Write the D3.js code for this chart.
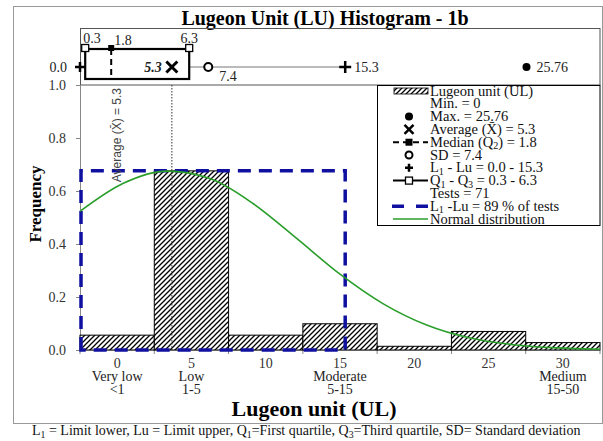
<!DOCTYPE html>
<html><head><meta charset="utf-8">
<script src="https://cdn.jsdelivr.net/npm/d3@7"></script>
<style>body{margin:0;background:#fff}</style>
</head><body>
<svg id="c" width="603" height="441"></svg>
<script>
// ---- data ----
const categories = ["0","5","10","15","20","25","30"];
const frequency = [0.056, 0.676, 0.056, 0.099, 0.014, 0.070, 0.028];
const yTicks = [0, 0.2, 0.4, 0.6, 0.8, 1.0];
const classNames = ["Very low","Low","Moderate","Medium"];
const classRanges = ["<1","1-5","5-15","15-50"];
const classAt = ["0","5","15","30"];
const boxStats = {min:0, q1:0.3, median:1.8, q3:6.3, mean:5.3, sd:7.4, upper:15.3, max:25.76, tests:71};
const limitBox = {low:0, up:15.3, freq:0.676};
const normalX = [0, 2.5, 5, 7.5, 10, 12.5, 15, 17.5, 20, 22.5, 25, 27.5, 30];
const normalY = [0.523, 0.629, 0.675, 0.647, 0.552, 0.421, 0.286, 0.174, 0.094, 0.045, 0.020, 0.008, 0.003];
const legendItems = [
  ["hatch","Lugeon unit (UL)"],
  ["none","Min. = 0"],
  ["dot","Max. = 25.76"],
  ["cross","Average (X\u0304) = 5.3"],
  ["median","Median (Q_2) = 1.8"],
  ["circle","SD = 7.4"],
  ["plus","L_1 - Lu = 0.0 - 15.3"],
  ["q","Q_1 - Q_3 = 0.3 - 6.3"],
  ["none","Tests = 71"],
  ["blue","L_1 -Lu = 89 % of tests"],
  ["green","Normal distribution"]
];
const caption = "L_1 = Limit lower,  Lu = Limit upper, Q_1=First quartile, Q_3=Third quartile, SD= Standard deviation";

// ---- layout ----
const svg = d3.select("#c");
const L = 80, R = 600, T = 85, B = 350, PT = 28.5, yc = 67;
const serif = "'Liberation Serif','Times New Roman',serif";
const sans = "'Liberation Sans',Arial,sans-serif";
const blue = "#1010a0", green = "#2a9e2a";

const xBand = d3.scaleBand().domain(categories).range([L, R]).padding(0);
const xLin = d3.scaleLinear().domain([0, 30]).range([L, R]);
const y = d3.scaleLinear().domain([0, 1]).range([B, T]);

function rich(sel, str, size) {
  const parts = str.split(/(_\d)/);
  let pend = 0;
  parts.forEach(p => {
    if (!p) return;
    if (p[0] === "_") {
      sel.append("tspan").attr("font-size", size * 0.7).attr("dy", size * 0.18).text(p.slice(1));
      pend = -size * 0.18;
    } else {
      const t = sel.append("tspan").text(p);
      if (pend) { t.attr("dy", pend); pend = 0; }
    }
  });
  return sel;
}

const defs = svg.append("defs");
const pat = defs.append("pattern").attr("id", "hatch").attr("patternUnits", "userSpaceOnUse").attr("width", 5).attr("height", 5);
pat.append("rect").attr("width", 5).attr("height", 5).attr("fill", "#fff");
pat.append("path").attr("d", "M-1,1 l2,-2 M0,5 l5,-5 M4,6 l2,-2").attr("stroke", "#000").attr("stroke-width", 1.3);

// outer frame
svg.append("rect").attr("x", 13.5).attr("y", 6.5).attr("width", 589).attr("height", 417)
  .attr("fill", "none").attr("stroke", "#999");

// title
svg.append("text").attr("x", 325).attr("y", 25).attr("text-anchor", "middle")
  .attr("font-family", serif).attr("font-weight", "bold").attr("font-size", 20)
  .text("Lugeon Unit (LU) Histogram - 1b");

// top panel frame
svg.append("rect").attr("x", L + 0.5).attr("y", PT).attr("width", R - L - 0.5).attr("height", T - PT)
  .attr("fill", "none").attr("stroke", "#555").attr("stroke-width", 1);
svg.append("line").attr("x1", L - 4).attr("x2", L).attr("y1", yc).attr("y2", yc).attr("stroke", "#555");
svg.append("text").attr("x", 67).attr("y", yc + 5).attr("text-anchor", "end")
  .attr("font-family", serif).attr("font-size", 14).attr("fill", "#222").text("0.0");

// y axis
const yAxis = svg.append("g").attr("transform", `translate(${L},0)`)
  .call(d3.axisLeft(y).tickValues(yTicks).tickFormat(d3.format(".1f")).tickSize(4).tickPadding(10));
yAxis.select(".domain").attr("stroke", "#888");
yAxis.selectAll(".tick line").attr("stroke", "#888");
yAxis.selectAll("text").attr("font-family", serif).attr("font-size", 14).attr("fill", "#333");

svg.append("text").attr("transform", `translate(41,204) rotate(-90)`).attr("text-anchor", "middle")
  .attr("font-family", serif).attr("font-weight", "bold").attr("font-size", 17).text("Frequency");

// x axis
svg.append("line").attr("x1", L).attr("x2", R).attr("y1", B).attr("y2", B).attr("stroke", "#888");
const edges = categories.map(c => xBand(c)).concat([R]);
svg.selectAll(".xt").data(edges).join("line").attr("x1", d => d).attr("x2", d => d)
  .attr("y1", B).attr("y2", B + 4).attr("stroke", "#888");
svg.selectAll(".xl").data(categories).join("text")
  .attr("x", d => xBand(d) + xBand.bandwidth() / 2).attr("y", 368).attr("text-anchor", "middle")
  .attr("font-family", serif).attr("font-size", 14).attr("fill", "#333").text(d => d);
classAt.forEach((c, i) => {
  const cx = xBand(c) + xBand.bandwidth() / 2;
  svg.append("text").attr("x", cx).attr("y", 381).attr("text-anchor", "middle")
    .attr("font-family", serif).attr("font-size", 14).attr("fill", "#222").text(classNames[i]);
  svg.append("text").attr("x", cx).attr("y", 394).attr("text-anchor", "middle")
    .attr("font-family", serif).attr("font-size", 14).attr("fill", "#222").text(classRanges[i]);
});
svg.append("text").attr("x", 314).attr("y", 416).attr("text-anchor", "middle")
  .attr("font-family", serif).attr("font-weight", "bold").attr("font-size", 22).text("Lugeon unit (UL)");

// bars
svg.selectAll(".bar").data(categories).join("rect")
  .attr("x", d => xBand(d)).attr("width", xBand.bandwidth())
  .attr("y", (d, i) => y(frequency[i])).attr("height", (d, i) => B - y(frequency[i]))
  .attr("fill", "url(#hatch)").attr("stroke", "#000").attr("stroke-width", 1);

// blue limits rectangle
svg.append("path")
  .attr("d", `M${xLin(limitBox.low) + 1},${B} V${y(limitBox.freq)} H${xLin(limitBox.up)} V${B} Z`)
  .attr("fill", "none").attr("stroke", blue).attr("stroke-width", 3.5).attr("stroke-dasharray", "13,8");

// normal distribution
svg.append("path").datum(normalX.map((x, i) => [x, normalY[i]]))
  .attr("d", d3.line().x(d => xLin(d[0])).y(d => y(d[1])).curve(d3.curveMonotoneX))
  .attr("fill", "none").attr("stroke", green).attr("stroke-width", 1.6);

// average dotted line + label
svg.append("line").attr("x1", xLin(boxStats.mean)).attr("x2", xLin(boxStats.mean)).attr("y1", T).attr("y2", B)
  .attr("stroke", "#333").attr("stroke-width", 1).attr("stroke-dasharray", "1.5,1.5");
svg.append("text").attr("transform", `translate(121,${T + 3}) rotate(-90)`).attr("text-anchor", "end")
  .attr("font-family", sans).attr("font-size", 12).attr("fill", "#444").text("Average (X\u0304) = 5.3");

// ---- box plot ----
const bx = xLin;
const boxTop = 49, boxBot = 79;
function drawX(g, cx, cy, r, w) {
  g.append("path").attr("d", `M${cx - r},${cy - r}L${cx + r},${cy + r}M${cx - r},${cy + r}L${cx + r},${cy - r}`)
    .attr("stroke", "#000").attr("stroke-width", w);
}
function drawPlus(g, cx, cy, r, w) {
  g.append("path").attr("d", `M${cx - r},${cy}H${cx + r}M${cx},${cy - r}V${cy + r}`)
    .attr("stroke", "#000").attr("stroke-width", w);
}
svg.append("line").attr("x1", bx(boxStats.q3)).attr("x2", bx(boxStats.upper)).attr("y1", yc).attr("y2", yc)
  .attr("stroke", "#777").attr("stroke-width", 1);
svg.append("line").attr("x1", bx(boxStats.min)).attr("x2", bx(boxStats.q1)).attr("y1", yc).attr("y2", yc)
  .attr("stroke", "#000").attr("stroke-width", 2);
svg.append("rect").attr("x", bx(boxStats.q1)).attr("y", boxTop).attr("width", bx(boxStats.q3) - bx(boxStats.q1))
  .attr("height", boxBot - boxTop).attr("fill", "#fff").attr("stroke", "#000").attr("stroke-width", 2.2);
svg.append("line").attr("x1", bx(boxStats.median)).attr("x2", bx(boxStats.median)).attr("y1", boxTop).attr("y2", boxBot)
  .attr("stroke", "#000").attr("stroke-width", 2).attr("stroke-dasharray", "6,4");
[boxStats.q1, boxStats.q3].forEach(v => {
  svg.append("rect").attr("x", bx(v) - 3.5).attr("y", boxTop - 4.5).attr("width", 7).attr("height", 7)
    .attr("fill", "#fff").attr("stroke", "#000").attr("stroke-width", 1.3);
});
svg.append("rect").attr("x", bx(boxStats.median) - 3).attr("y", boxTop - 4).attr("width", 6).attr("height", 6).attr("fill", "#000");
drawX(svg, bx(boxStats.mean), yc, 5.5, 3);
drawPlus(svg, bx(boxStats.min), yc, 5, 2.5);
drawPlus(svg, bx(boxStats.upper), yc, 6, 2.5);
svg.append("circle").attr("cx", bx(boxStats.sd)).attr("cy", yc).attr("r", 4).attr("fill", "#fff").attr("stroke", "#000").attr("stroke-width", 2);
svg.append("circle").attr("cx", bx(boxStats.max)).attr("cy", yc).attr("r", 4).attr("fill", "#000");
const bl = (x, yy, t, opt = {}) => svg.append("text").attr("x", x).attr("y", yy)
  .attr("font-family", serif).attr("font-size", 14).attr("fill", "#222")
  .attr("font-weight", opt.bold ? "bold" : null).attr("font-style", opt.it ? "italic" : null)
  .attr("text-anchor", opt.anchor || "start").text(t);
bl(bx(boxStats.q1) - 2, 43, "0.3");
bl(bx(boxStats.median) + 3, 45, "1.8");
bl(bx(boxStats.q3), 43, "6.3", {anchor: "middle"});
bl(bx(boxStats.mean) - 10, yc + 5, "5.3", {bold: true, it: true, anchor: "end"});
bl(bx(boxStats.sd) + 11, yc + 14, "7.4");
bl(bx(boxStats.upper) + 9, yc + 5, "15.3");
bl(bx(boxStats.max) + 10, yc + 5, "25.76");

// ---- legend ----
const lg = svg.append("g");
lg.append("rect").attr("x", 377.5).attr("y", T + 0.5).attr("width", R - 377.5).attr("height", 140)
  .attr("fill", "#fff").attr("stroke", "#000").attr("stroke-width", 1);
const sx = 409, tx = 430;
legendItems.forEach((it, i) => {
  const yy = 91 + i * 12.8;
  const k = it[0];
  if (k === "hatch") lg.append("rect").attr("x", 394).attr("y", yy - 3).attr("width", 34).attr("height", 6)
    .attr("fill", "url(#hatch)").attr("stroke", "#000").attr("stroke-width", 0.8);
  if (k === "dot") lg.append("circle").attr("cx", sx).attr("cy", yy).attr("r", 4).attr("fill", "#000");
  if (k === "cross") drawX(lg, sx, yy, 4.5, 2.5);
  if (k === "median") {
    lg.append("line").attr("x1", 393).attr("x2", 428).attr("y1", yy).attr("y2", yy)
      .attr("stroke", "#000").attr("stroke-width", 2).attr("stroke-dasharray", "6,4");
    lg.append("rect").attr("x", sx - 3.5).attr("y", yy - 3.5).attr("width", 7).attr("height", 7).attr("fill", "#000");
  }
  if (k === "circle") lg.append("circle").attr("cx", sx).attr("cy", yy).attr("r", 3.5).attr("fill", "#fff").attr("stroke", "#000").attr("stroke-width", 2);
  if (k === "plus") drawPlus(lg, sx, yy, 4, 2.5);
  if (k === "q") {
    lg.append("line").attr("x1", 393).attr("x2", 428).attr("y1", yy).attr("y2", yy).attr("stroke", "#000").attr("stroke-width", 2);
    lg.append("rect").attr("x", sx - 3.5).attr("y", yy - 3.5).attr("width", 7).attr("height", 7)
      .attr("fill", "#fff").attr("stroke", "#000").attr("stroke-width", 1.3);
  }
  if (k === "blue") lg.append("line").attr("x1", 392).attr("x2", 428).attr("y1", yy).attr("y2", yy)
    .attr("stroke", blue).attr("stroke-width", 3.5).attr("stroke-dasharray", "12,12");
  if (k === "green") lg.append("line").attr("x1", 393).attr("x2", 428).attr("y1", yy).attr("y2", yy)
    .attr("stroke", green).attr("stroke-width", 1.6);
  const t = lg.append("text").attr("x", tx).attr("y", yy + 4.5)
    .attr("font-family", serif).attr("font-size", 14.5).attr("fill", "#111");
  rich(t, it[1], 14.5);
});

// caption
const cap = svg.append("text").attr("x", 32).attr("y", 435)
  .attr("font-family", serif).attr("font-size", 14).attr("fill", "#111");
rich(cap, caption, 14);
</script>
</body></html>
